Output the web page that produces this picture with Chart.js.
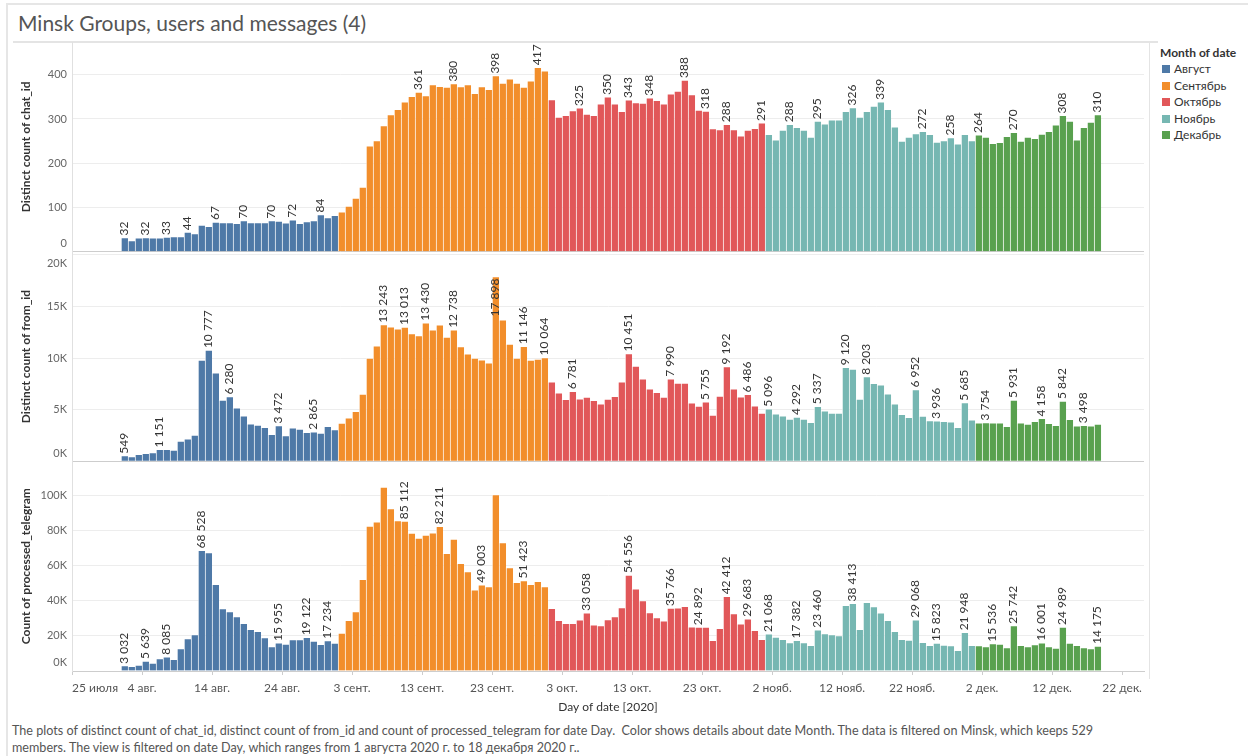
<!DOCTYPE html>
<html>
<head>
<meta charset="utf-8">
<script src="https://cdn.jsdelivr.net/npm/chart.js@4.4.0/dist/chart.umd.min.js"></script>
<style>
  body { margin: 0; width: 1248px; height: 756px; overflow: hidden; background: #fff; position: relative; font-family: Lato, sans-serif; }
  #frame { position: absolute; left: 6px; top: 3px; width: 1260px; height: 770px; border-top: 2px solid #e6e6e6; border-left: 2px solid #e6e6e6; }
  #titlebar { position: absolute; left: 13px; top: 5px; width: 1145px; height: 36px; border-bottom: 2px solid #e4e4e4; }
  #title { position: absolute; left: 18px; top: 13px; font-size: 21px; line-height: 20px; color: #555; white-space: nowrap; }
  #rightline { position: absolute; left: 1149px; top: 43px; width: 1px; height: 636px; background: #e4e4e4; }
  #wrap { position: absolute; left: 0; top: 0; width: 1150px; height: 716px; }
  #legend { position: absolute; left: 1160px; top: 44px; font-size: 12px; color: #333; }
  #legend .lt { font-weight: bold; height: 17px; line-height: 17px; }
  #legend .li { height: 16.6px; line-height: 16.6px; white-space: nowrap; }
  #legend .li i { display: inline-block; width: 8px; height: 8px; margin: 0 4px 0 2px; vertical-align: -0px; }
  #note { position: absolute; left: 12px; top: 722px; font-size: 12.6px; line-height: 17px; color: #555; white-space: nowrap; }
</style>
</head>
<body>
<div id="frame"></div>
<div id="titlebar"></div>
<div id="title">Minsk Groups, users and messages (4)</div>
<div id="rightline"></div>
<div id="wrap"><canvas id="myChart"></canvas></div>
<div id="legend"></div>
<div id="note">The plots of distinct count of chat_id, distinct count of from_id and count of processed_telegram for date Day.&nbsp; Color shows details about date Month. The data is filtered on Minsk, which keeps 529<br>members. The view is filtered on date Day, which ranges from 1 августа 2020 г. to 18 декабря 2020 г..</div>
<script>
// days run from 1 Aug 2020 (index 0) to 18 Dec 2020 (index 139)
var months = ['Август', 'Сентябрь', 'Октябрь', 'Ноябрь', 'Декабрь'];
var monthDays = [31, 30, 31, 30, 18];
var monthColors = ['#4e79a7', '#f28e2b', '#e15759', '#76b7b2', '#59a14f'];

var tickDays = [-7, 3, 13, 23, 33, 43, 53, 63, 73, 83, 93, 103, 113, 123, 133, 143];
var tickLabels = ['25 июля', '4 авг.', '14 авг.', '24 авг.', '3 сент.', '13 сент.', '23 сент.',
    '3 окт.', '13 окт.', '23 окт.', '2 нояб.', '12 нояб.', '22 нояб.', '2 дек.', '12 дек.', '22 дек.'];

var chatTicks = [0, 100, 200, 300, 400];
var fromTicks = [0, 5000, 10000, 15000, 20000];
var teleTicks = [0, 20000, 40000, 60000, 80000, 100000];

var chatIds = [
    32, 25, 31, 32, 31, 31, 33, 34, 34, 44, 41, 60, 57, 67, 66, 66, 64, 70, 66, 66, 66, 70, 69, 65, 72, 64, 68, 70, 84, 77, 82,
    90, 103, 121, 146, 239, 251, 285, 310, 322, 339, 351, 361, 353, 378, 374, 372, 380, 373, 378, 358, 373, 367, 398, 381, 391, 381, 372, 386, 417, 409,
    344, 304, 308, 319, 325, 311, 308, 334, 350, 334, 317, 343, 337, 336, 348, 342, 334, 357, 363, 388, 355, 320, 318, 278, 276, 288, 276, 262, 275, 279, 291,
    265, 253, 275, 288, 281, 275, 259, 295, 289, 298, 298, 317, 326, 304, 317, 329, 339, 322, 282, 250, 259, 267, 272, 265, 248, 251, 258, 244, 265, 251,
    264, 259, 245, 247, 261, 270, 250, 259, 256, 266, 272, 287, 308, 295, 253, 281, 293, 310
];
var fromIds = [
    549, 470, 677, 774, 839, 1151, 1160, 1100, 1968, 2190, 2550, 9807, 10777, 8580, 5936, 6280, 5194, 4420, 3645, 3516, 3290, 2613, 3472, 2484, 3258, 3129, 2807, 2865, 2742, 3387, 3065,
    3710, 4226, 4839, 6517, 10000, 11194, 13243, 13033, 12840, 13013, 12388, 12194, 13430, 12743, 13227, 12033, 12738, 11130, 10420, 10000, 9840, 9549, 17898, 13711, 11356, 10000, 11146, 9807, 9904, 10064,
    7710, 6646, 6000, 6781, 6065, 6226, 5903, 5581, 6033, 6291, 7710, 10451, 9226, 8000, 7033, 6678, 6226, 7990, 7581, 7581, 5678, 5355, 5755, 4484, 6323, 9192, 7033, 6258, 6486, 5387, 4678,
    5096, 4613, 4420, 4097, 4292, 4097, 3774, 5337, 4903, 4678, 4678, 9120, 8936, 6033, 8203, 7549, 7420, 6549, 5581, 4549, 4258, 6952, 4387, 3950, 3936, 3871, 3839, 3290, 5685, 4032,
    3740, 3754, 3742, 3742, 3387, 5931, 3742, 3613, 3871, 4158, 3678, 3484, 5842, 4065, 3452, 3498, 3452, 3613
];
var telegrams = [
    3032, 2600, 3413, 5639, 4550, 7015, 8085, 6636, 12703, 18391, 20666, 68528, 67308, 49296, 35455, 33749, 30905, 27113, 23700, 22562, 18960, 13841, 15955, 15358, 17822, 17822, 19122, 17064, 15168, 17234, 15926,
    21614, 28819, 33749, 52140, 82286, 84751, 104470, 92335, 85510, 85112, 78305, 75461, 77167, 78494, 82211, 66929, 74893, 61241, 56501, 46073, 49003, 47969, 100298, 72997, 58776, 50434, 51423, 49296, 51002, 47969,
    35645, 28819, 27113, 27113, 29009, 33058, 26165, 25786, 29198, 30905, 36024, 54556, 46642, 40006, 33180, 30336, 28440, 35766, 35900, 36782, 25100, 24892, 24900, 17443, 24269, 42412, 32611, 26734, 29683, 23131, 18012,
    21068, 19339, 18012, 16116, 17382, 16116, 14600, 23460, 21235, 20666, 20098, 37351, 38413, 23700, 39058, 36593, 32990, 28819, 22562, 18012, 17633, 29068, 16306, 14550, 15823, 14700, 14500, 11755, 21948, 14600,
    14410, 13841, 15536, 15358, 13272, 25742, 14600, 13841, 14979, 16001, 13841, 13082, 24989, 15926, 14650, 13272, 12703, 14175
];

// days that carry a value label in each panel
var chatLabelDays = [0, 3, 6, 9, 13, 17, 21, 24, 28, 42, 47, 53, 59, 65, 69, 72, 75, 80, 83, 86, 91, 95, 99, 104, 108, 114, 118, 122, 127, 134, 139];
var fromLabelDays = [0, 5, 12, 15, 22, 27, 37, 40, 43, 47, 53, 57, 60, 64, 72, 78, 83, 86, 89, 92, 96, 99, 103, 106, 113, 116, 120, 123, 127, 131, 134, 137];
var teleLabelDays = [0, 3, 6, 11, 22, 26, 29, 40, 45, 51, 57, 66, 72, 78, 82, 86, 89, 92, 96, 99, 104, 113, 116, 120, 124, 127, 131, 134, 139];

var xMin = -7, xMax = 146.13;
var FONT = 'Lato';

function monthOf(i) {
    var m = 0, acc = monthDays[0];
    while (i >= acc && m < monthDays.length - 1) { m++; acc += monthDays[m]; }
    return m;
}
function thousands(v) {
    return String(v).replace(/\B(?=(\d{3})+(?!\d))/g, '\u00a0');
}

// legend
var lg = document.getElementById('legend');
var html = '<div class="lt">Month of date</div>';
months.forEach(function(m, k) {
    html += '<div class="li"><i style="background:' + monthColors[k] + '"></i>' + m + '</div>';
});
lg.innerHTML = html;

function barSet(values, axis, labelDays) {
    return {
        data: values.map(function(v, i) { return {x: i + 0.5, y: v}; }),
        yAxisID: axis,
        backgroundColor: values.map(function(v, i) { return monthColors[monthOf(i)]; }),
        borderColor: 'rgba(255,255,255,0.55)',
        borderWidth: {left: 1, top: 1, right: 0, bottom: 0},
        grouped: false,
        barPercentage: 1,
        categoryPercentage: 1,
        labelDays: labelDays
    };
}

function yAxis(title, ticks, max, fmt) {
    return {
        type: 'linear',
        position: 'left',
        stack: 'panels',
        stackWeight: 1,
        min: 0,
        max: max,
        afterBuildTicks: function(s) { s.ticks = ticks.map(function(v) { return {value: v}; }); },
        afterFit: function(s) { s.width = 72; },
        ticks: {
            autoSkip: false,
            font: {family: FONT, size: 11, lineHeight: 1.5},
            color: '#666',
            padding: 5,
            callback: function(v) {
                var t = fmt(v);
                if (v === 0) return [t, ''];
                if (v / max > 0.97) return ['', t];
                return t;
            }
        },
        grid: {
            color: function(c) { return c.tick && c.tick.value === 0 ? '#cdcdcd' : '#ededed'; },
            drawTicks: false
        },
        border: {display: true, color: '#e0e0e0'},
        title: {
            display: true, text: title, color: '#333',
            font: {family: FONT, size: 12, weight: 'bold'},
            padding: {top: 19, bottom: 0}
        }
    };
}

var barLabels = {
    id: 'barLabels',
    afterDatasetsDraw: function(chart) {
        var ctx = chart.ctx;
        ctx.save();
        ctx.font = '12px ' + FONT;
        ctx.fillStyle = '#333';
        ctx.textBaseline = 'middle';
        chart.data.datasets.forEach(function(ds, d) {
            var meta = chart.getDatasetMeta(d);
            var yScale = chart.scales[ds.yAxisID];
            ds.labelDays.forEach(function(i) {
                var bar = meta.data[i];
                var text = thousands(ds.data[i].y);
                var w = ctx.measureText(text).width;
                ctx.save();
                ctx.translate(bar.x, bar.y);
                ctx.rotate(-Math.PI / 2);
                if (bar.y - 2 - w < yScale.top) {
                    ctx.textAlign = 'right';
                    ctx.fillText(text, -2, 0);
                } else {
                    ctx.textAlign = 'left';
                    ctx.fillText(text, 2, 0);
                }
                ctx.restore();
            });
        });
        ctx.restore();
    }
};

var dataObj = {
    type: 'bar',
    data: {
        datasets: [
            barSet(telegrams, 'yTele', teleLabelDays),
            barSet(fromIds, 'yFrom', fromLabelDays),
            barSet(chatIds, 'yChat', chatLabelDays)
        ]
    },
    options: {
        animation: false,
        responsive: true,
        maintainAspectRatio: false,
        devicePixelRatio: 1,
        layout: {padding: {top: 42, right: 3, left: 0, bottom: 0}},
        plugins: {legend: {display: false}, tooltip: {enabled: false}},
        scales: {
            x: {
                type: 'linear',
                offset: false,
                min: xMin,
                max: xMax,
                afterBuildTicks: function(s) {
                    s.ticks = tickDays.map(function(v) { return {value: v}; }).concat([{value: xMax}]);
                },
                afterFit: function(s) { s.height = 45; },
                ticks: {
                    autoSkip: false, maxRotation: 0, minRotation: 0, align: 'inner', padding: 6,
                    font: {family: FONT, size: 12}, color: '#555',
                    callback: function(v) {
                        var k = tickDays.indexOf(v);
                        return k >= 0 ? tickLabels[k] : '';
                    }
                },
                grid: {
                    offset: false,
                    drawOnChartArea: false, drawTicks: true, tickLength: 4,
                    color: function(c) { return c.tick && tickDays.indexOf(c.tick.value) >= 0 ? '#cdcdcd' : 'rgba(0,0,0,0)'; }
                },
                border: {display: true, color: '#cdcdcd'},
                title: {
                    display: true, text: 'Day of date [2020]', color: '#333',
                    font: {family: FONT, size: 12}, padding: {top: 0, bottom: 2}
                }
            },
            yTele: yAxis('Count of processed_telegram', teleTicks, 119130, function(v) { return (v / 1000) + 'K'; }),
            yFrom: yAxis('Distinct count of from_id', fromTicks, 20316, function(v) { return (v / 1000) + 'K'; }),
            yChat: yAxis('Distinct count of chat_id', chatTicks, 474, function(v) { return String(v); })
        }
    },
    plugins: [barLabels]
};

var ctx = document.getElementById('myChart').getContext('2d');
window.myBars = new Chart(ctx, dataObj);
</script>
</body>
</html>
